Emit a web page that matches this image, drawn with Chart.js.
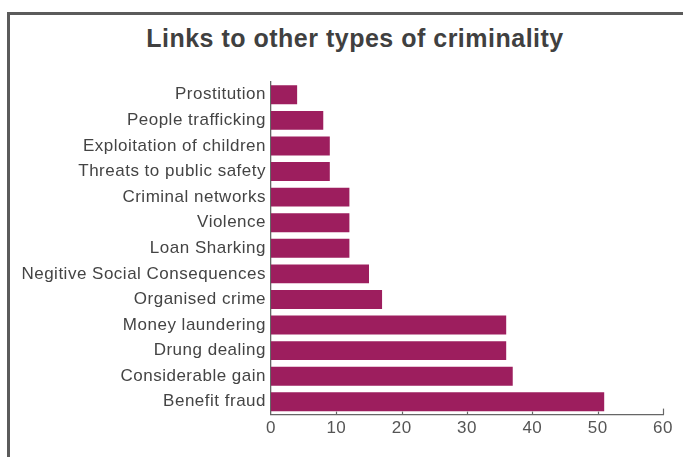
<!DOCTYPE html>
<html>
<head>
<meta charset="utf-8">
<script src="https://cdn.jsdelivr.net/npm/chart.js@4.4.1/dist/chart.umd.min.js"></script>
<style>
  html, body { margin: 0; padding: 0; background: #fff; }
  #wrap { position: relative; width: 683px; height: 457px; overflow: hidden; }
  #frame {
    position: absolute; left: 7px; top: 12px; width: 720px; height: 480px;
    border-top: 3px solid #5b5b5b; border-left: 3px solid #5b5b5b;
  }
  /* title is centred on the framed panel, which runs past the right edge */
  #title {
    position: absolute; left: 7px; width: 696px; top: 24px;
    text-align: center; white-space: nowrap;
    font: bold 25px/28px "Liberation Sans", Arial, sans-serif;
    letter-spacing: 0.5px; color: #404040;
  }
  #myChart { position: absolute; left: 0; top: 0; }
</style>
</head>
<body>
<div id="wrap">
  <div id="frame"></div>
  <div id="title">Links to other types of criminality</div>
  <canvas id="myChart" width="683" height="457"></canvas>
</div>
<script>
var categories = [
  "Prostitution",
  "People trafficking",
  "Exploitation of children",
  "Threats to public safety",
  "Criminal networks",
  "Violence",
  "Loan Sharking",
  "Negitive Social Consequences",
  "Organised crime",
  "Money laundering",
  "Drung dealing",
  "Considerable gain",
  "Benefit fraud",
];
var counts = [4, 8, 9, 9, 12, 12, 12, 15, 17, 36, 36, 37, 51];
var xTicks = [0, 10, 20, 30, 40, 50, 60];

var FONT = "'Liberation Sans', Arial, sans-serif";

// a touch of letter spacing for all chart text
var spacing = {
  id: "spacing",
  beforeLayout: function (chart) { chart.ctx.letterSpacing = "0.5px"; },
  beforeDraw: function (chart) { chart.ctx.letterSpacing = "0.5px"; },
};

// small tick marks pointing up into the plot from the x axis
var upTicks = {
  id: "upTicks",
  afterDraw: function (chart) {
    var x = chart.scales.x;
    var c = chart.ctx;
    c.save();
    c.strokeStyle = "#666";
    c.lineWidth = 1.2;
    xTicks.forEach(function (v, i) {
      if (v === 0) return;
      var px = Math.round(x.getPixelForValue(v)) + 0.5;
      var len = i === xTicks.length - 1 ? 6 : 3;
      c.beginPath();
      c.moveTo(px, x.top);
      c.lineTo(px, x.top - len);
      c.stroke();
    });
    c.restore();
  },
};

var ctx = document.getElementById("myChart").getContext("2d");
var myChart = new Chart(ctx, {
  type: "bar",
  data: {
    labels: categories,
    datasets: [
      {
        label: "Links",
        data: counts,
        backgroundColor: "#9d1e5e",
        borderWidth: 0,
        barPercentage: 0.74,
        categoryPercentage: 1,
      },
    ],
  },
  options: {
    indexAxis: "y",
    responsive: false,
    animation: false,
    layout: {
      padding: { left: 0, right: 20, top: 82, bottom: 14 },
    },
    plugins: {
      legend: { display: false },
      tooltip: { enabled: false },
      title: { display: false },
    },
    scales: {
      x: {
        min: 0,
        max: 60,
        afterBuildTicks: function (scale) {
          scale.ticks = xTicks.map(function (v) { return { value: v }; });
        },
        grid: { display: false, drawTicks: false },
        border: { display: true, color: "#666", width: 1.3 },
        ticks: {
          color: "#555",
          padding: 4,
          maxRotation: 0,
          font: { family: FONT, size: 17 },
        },
      },
      y: {
        afterFit: function (scale) {
          scale.width = 271;
        },
        grid: { display: false, drawTicks: false },
        border: { display: true, color: "#666", width: 1.3 },
        ticks: {
          color: "#444",
          padding: 5,
          autoSkip: false,
          font: { family: FONT, size: 17 },
        },
      },
    },
  },
  plugins: [spacing, upTicks],
});
</script>
</body>
</html>
